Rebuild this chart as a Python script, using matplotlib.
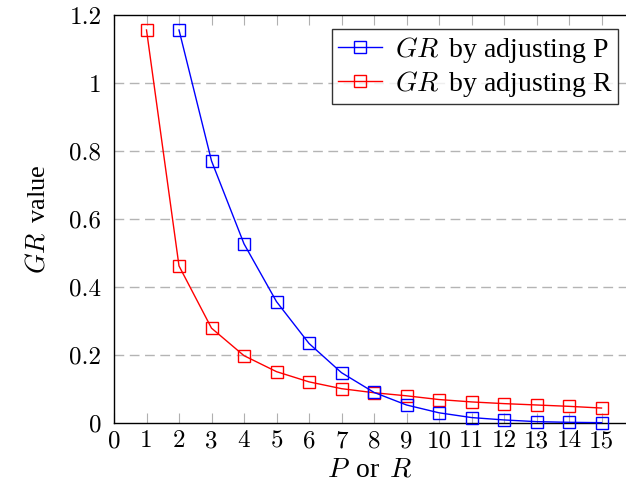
import matplotlib
matplotlib.use('Agg')
import matplotlib.pyplot as plt

# data
p_x = [2, 3, 4, 5, 6, 7, 8, 9, 10, 11, 12, 13, 14, 15]
gr_p = [1.156, 0.771, 0.527, 0.357, 0.234, 0.148, 0.090, 0.053, 0.030, 0.016, 0.009, 0.004, 0.002, 0.001]
r_x = [1, 2, 3, 4, 5, 6, 7, 8, 9, 10, 11, 12, 13, 14, 15]
gr_r = [1.156, 0.462, 0.279, 0.198, 0.151, 0.121, 0.101, 0.089, 0.080, 0.069, 0.062, 0.057, 0.053, 0.049, 0.044]

x_ticks = list(range(16))
y_ticks = [0, 0.2, 0.4, 0.6, 0.8, 1.0, 1.2]
y_labels = ['0', '0.2', '0.4', '0.6', '0.8', '1', '1.2']

plt.rcParams['mathtext.fontset'] = 'cm'
plt.rcParams['font.family'] = ['Liberation Serif', 'DejaVu Serif']

fig = plt.figure(figsize=(6.26, 4.96), dpi=100)
# axes box: left spine at x=114px, bottom at y=423px, top at y=15px, runs off the right edge
ax = fig.add_axes([114 / 626, 1 - 423 / 496, 1 - 114 / 626, (423 - 15) / 496])

# lines with open square markers
ax.plot(p_x, gr_p, color='blue', lw=1.0, marker='s', ms=8, mfc='none', mew=1.0,
        label='$GR\\,$ by adjusting P', clip_on=False, zorder=4)
ax.plot(r_x, gr_r, color='red', lw=1.0, marker='s', ms=8, mfc='none', mew=1.0,
        label='$GR\\,$ by adjusting R', clip_on=False, zorder=3)

ax.set_xlim(0, (626 - 114) / 32.5)
ax.set_ylim(0, 1.2)

# dashed horizontal grid
for yv in y_ticks[1:-1]:
    ax.axhline(yv, color='#b4b4b4', lw=1.0, ls=(0, (7, 4)), zorder=1)

ax.set_xticks(x_ticks)
ax.set_xticklabels([str(v) for v in x_ticks], fontname='cmr10', fontsize=18)
ax.set_yticks(y_ticks)
ax.set_yticklabels(y_labels, fontname='cmr10', fontsize=18)
ax.tick_params(axis='x', direction='in', length=7, color='#b0b0b0', width=0.8,
               top=True, pad=5)
ax.tick_params(axis='y', length=0, pad=9)

ax.spines['right'].set_visible(False)
for s in ['left', 'bottom', 'top']:
    ax.spines[s].set_linewidth(1.0)

ax.set_xlabel('$P\\,$ or $\\,R$', fontsize=20, labelpad=4)
ax.set_ylabel('$GR\\,$ value', fontsize=19, labelpad=14)

leg = ax.legend(loc='upper right', bbox_to_anchor=(504 / 512, (423 - 29) / 408),
                borderaxespad=0, fontsize=20, frameon=True, fancybox=False,
                edgecolor='black', handlelength=1.6, borderpad=0.2,
                labelspacing=0.15, handletextpad=0.45)
leg.get_frame().set_linewidth(1.0)

fig.savefig('out.png', dpi=100)
